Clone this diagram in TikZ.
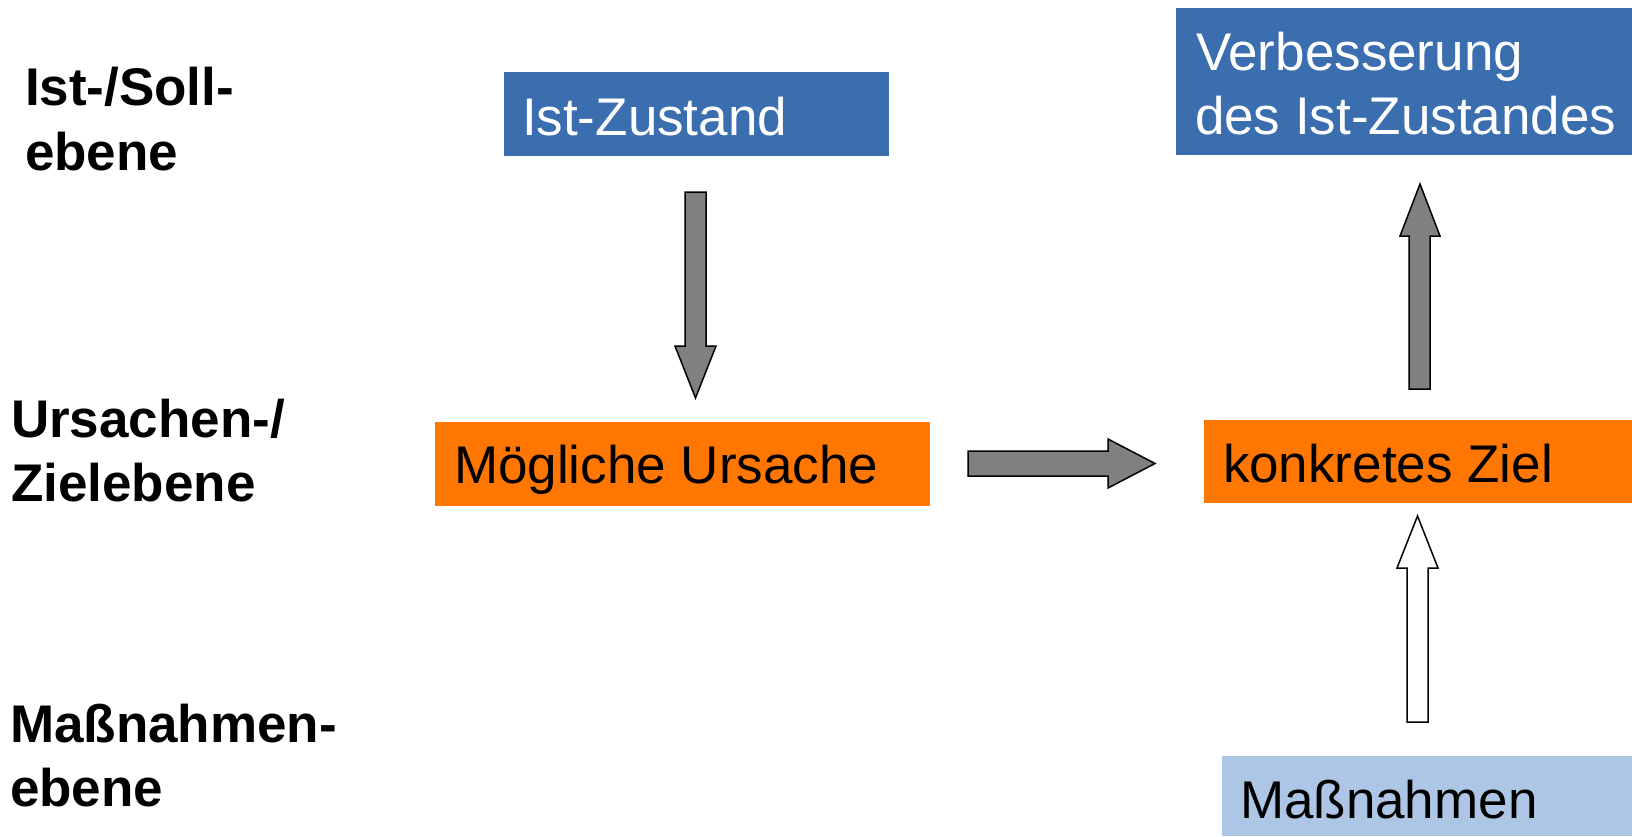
\documentclass[tikz,border=0pt]{standalone}
\usepackage{fontspec}
\setmainfont{Liberation Sans}
\definecolor{boxblue}{RGB}{58,110,175}
\definecolor{boxorange}{RGB}{255,119,0}
\definecolor{boxlight}{RGB}{173,198,229}
\definecolor{arrgray}{RGB}{128,128,128}
\tikzset{
  px/.style={x=0.5bp,y=-0.5bp},
  boxshape/.style={rectangle, draw=none, inner sep=0pt, outer sep=0pt, anchor=north west},
  txt/.style={anchor=base west, inner sep=0pt, outer sep=0pt, font=\fontsize{26.5bp}{32bp}\selectfont},
  lbl/.style={anchor=base west, inner sep=0pt, outer sep=0pt, font=\fontsize{26.5bp}{32bp}\selectfont\bfseries},
  blockarr/.style={draw=black, line width=0.75bp, line join=miter, fill=arrgray},
  blockarrwhite/.style={draw=black, line width=0.75bp, line join=miter, fill=white}
}
\begin{document}
\begin{tikzpicture}[px]
\useasboundingbox[fill=white] (0,0) rectangle (1632,836);

% boxes
\node[boxshape, fill=boxblue, minimum width=192.5bp, minimum height=42bp] (ist) at (504,72) {};
\node[boxshape, fill=boxblue, minimum width=228bp, minimum height=73.5bp] (verb) at (1176,8) {};
\node[boxshape, fill=boxorange, minimum width=247.5bp, minimum height=42bp] (moeg) at (435,422) {};
\node[boxshape, fill=boxorange, minimum width=214bp, minimum height=41.5bp] (ziel) at (1204,420) {};
\node[boxshape, fill=boxlight, minimum width=205bp, minimum height=40bp] (mass) at (1222,756) {};

% box texts
\node[txt, text=white] (tist) at (522,135) {Ist-Zustand};
\node[txt, text=white] (tverb1) at (1196,70) {Verbesserung};
\node[txt, text=white] (tverb2) at (1195,134) {des Ist-Zustandes};
\node[txt, text=black] (tmoeg) at (454,483) {Mögliche Ursache};
\node[txt, text=black] (tziel) at (1223,482) {konkretes Ziel};
\node[txt, text=black] (tmass) at (1240,818) {Maßnahmen};

% level labels
\node[lbl] (l1a) at (25,105) {Ist-/Soll-};
\node[lbl] (l1b) at (25,170) {ebene};
\node[lbl] (l2a) at (11,437) {Ursachen-/};
\node[lbl] (l2b) at (11,501) {Zielebene};
\node[lbl] (l3a) at (10,742) {Maßnahmen-};
\node[lbl] (l3b) at (10,806) {ebene};

% block arrows
% down: Ist-Zustand -> Moegliche Ursache
\draw[blockarr] (685,192) -- (706,192) -- (706,346) -- (716,346) -- (695.5,398)
  -- (675,346) -- (685,346) -- cycle;
% right: Moegliche Ursache -> konkretes Ziel
\draw[blockarr] (968,451) -- (1108,451) -- (1108,439) -- (1155,463.5) -- (1108,488)
  -- (1108,476) -- (968,476) -- cycle;
% up: konkretes Ziel -> Verbesserung
\draw[blockarr] (1409,389) -- (1409,236) -- (1400,236) -- (1420,184) -- (1440,236)
  -- (1430,236) -- (1430,389) -- cycle;
% up (white): Massnahmen -> konkretes Ziel
\draw[blockarrwhite] (1407,722) -- (1407,568) -- (1397,568) -- (1417.5,516) -- (1438,568)
  -- (1428,568) -- (1428,722) -- cycle;
\end{tikzpicture}
\end{document}
